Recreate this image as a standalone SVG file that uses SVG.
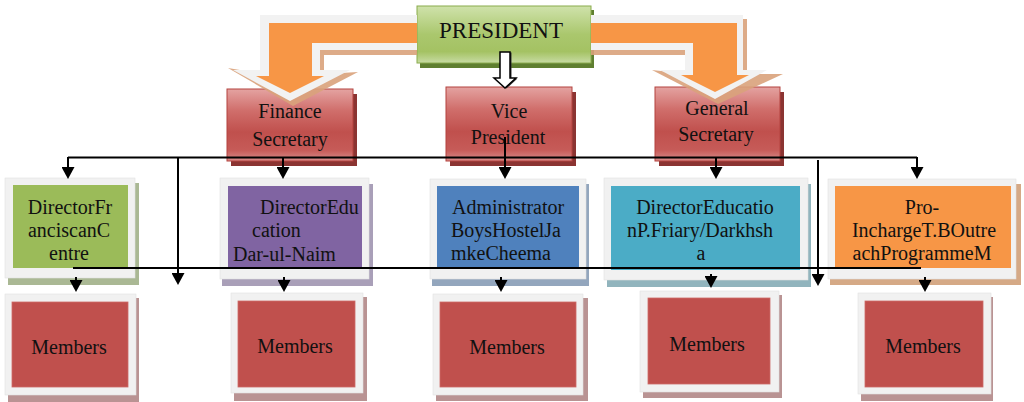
<svg xmlns="http://www.w3.org/2000/svg" width="1024" height="402" viewBox="0 0 1024 402">
<defs>
<style>
.t{font-family:"Liberation Serif","Times New Roman",serif;font-size:20px;fill:#111}
.tm{text-anchor:middle}
.frame{fill:#f1f1f1;stroke:#e2e2e2;stroke-width:0.6}
.mem{fill:#c0504d;stroke:#cd6a67;stroke-width:0.8}
.memsh{fill:#b99393}
.lvl2{fill:url(#redG);stroke:#b4433f;stroke-width:1}
.lvl2sh{fill:#8b3432}
.ln{fill:none;stroke:#000;stroke-width:2}
.arr{marker-end:url(#ah)}
.white{fill:#f2f2f2}
.orange{fill:#f79646}
.tan{fill:#d9a27b;opacity:0.9}
</style>
<linearGradient id="redG" x1="0" y1="0" x2="0" y2="1">
<stop offset="0" stop-color="#e4a3a1"/>
<stop offset="0.3" stop-color="#d06e6b"/>
<stop offset="0.6" stop-color="#c0504d"/>
<stop offset="0.85" stop-color="#c65b58"/>
<stop offset="1" stop-color="#d98d8b"/>
</linearGradient>
<linearGradient id="greenG" x1="0" y1="0" x2="0" y2="1">
<stop offset="0" stop-color="#cfe2ab"/>
<stop offset="0.5" stop-color="#aac76d"/>
<stop offset="0.8" stop-color="#a4c263"/>
<stop offset="1" stop-color="#c8dca4"/>
</linearGradient>
<marker id="ah" markerUnits="userSpaceOnUse" markerWidth="12" markerHeight="13" viewBox="0 0 12 13" refX="0" refY="6.5" orient="auto">
<path d="M0,0 L12,6.5 L0,13 z" fill="#000"/>
</marker>
</defs>
<rect width="1024" height="402" fill="#fff"/>

<!-- Members -->
<g id="members1">
<rect class="memsh" x="8" y="298" width="131" height="104"/>
<rect class="frame" x="5" y="294" width="131" height="101"/>
<rect class="mem" x="12" y="302" width="116" height="85"/>
<text class="t tm" x="69" y="354">Members</text>
</g>
<g id="members2">
<rect class="memsh" x="234" y="297" width="133" height="104"/>
<rect class="frame" x="231" y="293" width="132" height="100"/>
<rect class="mem" x="238" y="301" width="117" height="86"/>
<text class="t tm" x="295" y="353">Members</text>
</g>
<g id="members3">
<rect class="memsh" x="436" y="298" width="152" height="103"/>
<rect class="frame" x="433" y="294" width="150" height="101"/>
<rect class="mem" x="440" y="302" width="136" height="85"/>
<text class="t tm" x="507" y="354">Members</text>
</g>
<g id="members4">
<rect class="memsh" x="643" y="295" width="139" height="103"/>
<rect class="frame" x="640" y="291" width="139" height="101"/>
<rect class="mem" x="648" y="298" width="122" height="86"/>
<text class="t tm" x="707" y="351">Members</text>
</g>
<g id="members5">
<rect class="memsh" x="861" y="297" width="132" height="104"/>
<rect class="frame" x="858" y="293" width="133" height="101"/>
<rect class="mem" x="865" y="301" width="118" height="86"/>
<text class="t tm" x="923" y="353">Members</text>
</g>

<!-- Directors -->
<g id="director-franciscan">
<rect x="8" y="183" width="131" height="102" fill="#aab894"/>
<rect class="frame" x="5" y="178" width="130" height="100"/>
<rect x="13" y="185" width="115" height="83" fill="#9bbb59"/>
<text class="t tm" x="70" y="214">DirectorFr</text>
<text class="t tm" x="69" y="237">anciscanC</text>
<text class="t tm" x="69" y="260">entre</text>
</g>
<g id="director-education-darulnaim">
<rect x="222" y="184" width="151" height="102" fill="#a99fb8"/>
<rect class="frame" x="220" y="178" width="149" height="101"/>
<rect x="228" y="186" width="134" height="82" fill="#8064a2"/>
<text class="t" x="260" y="214">DirectorEdu</text>
<text class="t" x="252" y="237">cation</text>
<text class="t" x="233" y="261">Dar-ul-Naim</text>
</g>
<g id="administrator-boyshostel">
<rect x="432" y="184" width="157" height="102" fill="#93a6bd"/>
<rect class="frame" x="430" y="179" width="156" height="100"/>
<rect x="437" y="186" width="142" height="82" fill="#4f81bd"/>
<text class="t" x="452" y="214">Administrator</text>
<text class="t" x="451" y="237">BoysHostelJa</text>
<text class="t" x="451" y="260">mkeCheema</text>
</g>
<g id="director-education-friary">
<rect x="607" y="184" width="204" height="103" fill="#91b4bd"/>
<rect class="frame" x="604" y="178" width="204" height="102"/>
<rect x="611" y="186" width="189" height="84" fill="#4bacc6"/>
<text class="t tm" x="705" y="214">DirectorEducatio</text>
<text class="t tm" x="700" y="237">nP.Friary/Darkhsh</text>
<text class="t tm" x="701" y="260">a</text>
</g>
<g id="proincharge-outreach">
<rect x="830" y="184" width="191" height="101" fill="#d5a986"/>
<rect class="frame" x="828" y="179" width="188" height="100"/>
<rect x="835" y="186" width="176" height="82" fill="#f79646"/>
<text class="t tm" x="922" y="214">Pro-</text>
<text class="t tm" x="924" y="237">InchargeT.BOutre</text>
<text class="t tm" x="922" y="260">achProgrammeM</text>
</g>

<!-- Level 2 -->
<g id="finance-secretary">
<rect class="lvl2sh" x="231" y="94" width="126" height="72"/>
<rect class="lvl2" x="227" y="89" width="126" height="72"/>
<text class="t tm" x="290" y="118">Finance</text>
<text class="t tm" x="290" y="146">Secretary</text>
</g>
<g id="vice-president">
<rect class="lvl2sh" x="450" y="92" width="126" height="74"/>
<rect class="lvl2" x="446" y="87" width="126" height="74"/>
<text class="t tm" x="509" y="118">Vice</text>
<text class="t tm" x="508" y="144">President</text>
</g>
<g id="general-secretary">
<rect class="lvl2sh" x="659" y="92" width="125" height="74"/>
<rect class="lvl2" x="655" y="87" width="125" height="74"/>
<text class="t tm" x="717" y="115">General</text>
<text class="t tm" x="716" y="141">Secretary</text>
</g>

<!-- President -->
<g id="president">
<rect x="420" y="10" width="174" height="58" fill="#5f7f30"/>
<rect x="417" y="6" width="174" height="57" fill="url(#greenG)" stroke="#8aab4c" stroke-width="1"/>
<text class="t tm" x="501" y="38" style="font-size:23px">PRESIDENT</text>
</g>

<!-- Connectors -->
<g id="connectors">
<polygon class="tan" points="417,19 264,19 264,74 228,68 293,106 358,72 324,74 324,55 417,55"/>
<polygon class="white" points="417,15 260,15 260,70 233,70 290,101 350,70 320,70 320,50 417,50"/>
<polygon class="orange" points="417,23 269,23 269,76 256,76 290,93 324,76 312,76 312,43 417,43"/>

<polygon class="tan" points="591,19 747,19 747,74 783,74 718,104 652,70 689,74 689,55 591,55"/>
<polygon class="white" points="591,15 743,15 743,70 767,70 715,99 660,70 685,70 685,50 591,50"/>
<polygon class="orange" points="591,23 737,23 737,75 749,75 715,92 681,75 693,75 693,43 591,43"/>

<polygon points="501.5,52.5 511.5,52.5 511.5,78.5 517.5,78.5 506.5,88.5 495.5,78.5 501.5,78.5" fill="#333"/>
<polygon points="500,52 510,52 510,78 516,78 505,88 494,78 500,78" fill="#fff" stroke="#000" stroke-width="1.5" stroke-linejoin="miter"/>

<path class="ln" d="M68,157.5 H917"/>
<path class="ln arr" d="M68,157 V167"/>
<path class="ln arr" d="M283,157 V167"/>
<path class="ln arr" d="M505,137 V167"/>
<path class="ln arr" d="M716,157 V167"/>
<path class="ln arr" d="M917,157 V167"/>
<path class="ln arr" d="M178,157 V273"/>
<path class="ln arr" d="M818,160 V274"/>

<path class="ln" d="M73,268 H921"/>
<path class="ln arr" d="M76,277 V280"/>
<path class="ln arr" d="M284,277 V280"/>
<path class="ln arr" d="M501,277 V280"/>
<path class="ln arr" d="M711,274 V276"/>
<path class="ln arr" d="M925,277 V280"/>
</g>
</svg>
